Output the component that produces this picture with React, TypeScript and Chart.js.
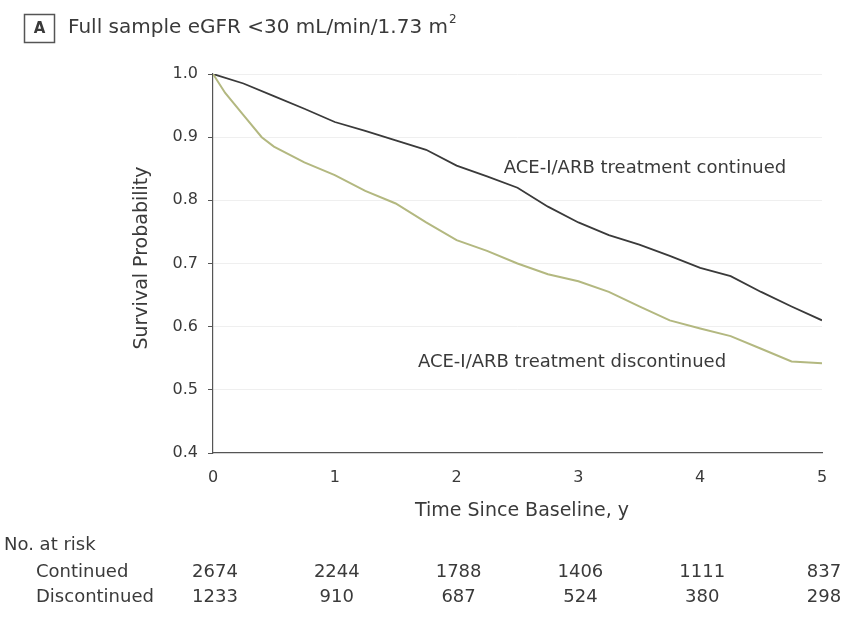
import React, { useEffect, useRef } from "react";
import { Chart, registerables } from "chart.js";

Chart.register(...registerables);

const yearTicks = [0, 1, 2, 3, 4, 5];
const yTicks = [0.4, 0.5, 0.6, 0.7, 0.8, 0.9, 1.0];

const continuedTimes = [0, 0.25, 0.5, 0.75, 1.0, 1.25, 1.5, 1.75, 2.0, 2.25, 2.5, 2.75, 3.0, 3.25, 3.5, 3.75, 4.0, 4.25, 4.5, 4.75, 5.0];
const continuedSurvival = [1.0, 0.985, 0.965, 0.945, 0.924, 0.91, 0.895, 0.88, 0.855, 0.838, 0.82, 0.79, 0.765, 0.745, 0.73, 0.712, 0.693, 0.68, 0.655, 0.632, 0.61];

const discontinuedTimes = [0, 0.1, 0.25, 0.4, 0.5, 0.75, 1.0, 1.25, 1.5, 1.75, 2.0, 2.25, 2.5, 2.75, 3.0, 3.25, 3.5, 3.75, 4.0, 4.25, 4.5, 4.75, 5.0];
const discontinuedSurvival = [1.0, 0.97, 0.935, 0.9, 0.885, 0.86, 0.84, 0.815, 0.795, 0.765, 0.737, 0.72, 0.7, 0.683, 0.672, 0.655, 0.632, 0.61, 0.597, 0.585, 0.565, 0.545, 0.542];

const atRiskContinued = [2674, 2244, 1788, 1406, 1111, 837];
const atRiskDiscontinued = [1233, 910, 687, 524, 380, 298];

const FONT = "'DejaVu Sans', 'Liberation Sans', sans-serif";
const TEXT = "#3a3a3a";

const overlay = {
  id: "overlay",
  afterDraw(chart: any) {
    const ctx = chart.ctx;
    const xs = chart.scales.x;
    const ys = chart.scales.y;
    ctx.save();
    ctx.fillStyle = TEXT;
    ctx.textBaseline = "middle";
    // panel title
    ctx.strokeStyle = "#555";
    ctx.lineWidth = 1.5;
    ctx.strokeRect(24.5, 14.5, 30, 28);
    ctx.font = `bold 15px ${FONT}`;
    ctx.textAlign = "center";
    ctx.fillText("A", 39.5, 29);
    ctx.font = `20px ${FONT}`;
    ctx.textAlign = "left";
    const t = "Full sample eGFR <30 mL/min/1.73 m";
    ctx.fillText(t, 68, 28);
    const w = ctx.measureText(t).width;
    ctx.font = `12px ${FONT}`;
    ctx.fillText("2", 68 + w + 1, 20);
    // axis titles
    ctx.font = `19px ${FONT}`;
    ctx.textAlign = "center";
    ctx.fillText("Time Since Baseline, y", 522, 511);
    ctx.save();
    ctx.translate(142, 258);
    ctx.rotate(-Math.PI / 2);
    ctx.fillText("Survival Probability", 0, 0);
    ctx.restore();
    // curve labels
    ctx.font = `18px ${FONT}`;
    ctx.fillText("ACE-I/ARB treatment continued", 645, ys.getPixelForValue(0.85));
    ctx.fillText("ACE-I/ARB treatment discontinued", 572, ys.getPixelForValue(0.544));
    // at-risk table
    ctx.textAlign = "left";
    ctx.fillText("No. at risk", 4, 545);
    ctx.fillText("Continued", 36, 572);
    ctx.fillText("Discontinued", 36, 597);
    ctx.textAlign = "center";
    yearTicks.forEach((yr, i) => {
      let px = xs.getPixelForValue(yr) + 2;
      if (i === yearTicks.length - 1) px = Math.min(px, 848 - 22);
      ctx.fillText(String(atRiskContinued[i]), px, 572);
      ctx.fillText(String(atRiskDiscontinued[i]), px, 597);
    });
    ctx.restore();
  },
};

export default function App() {
  const ref = useRef<HTMLCanvasElement>(null);
  useEffect(() => {
    if (!ref.current) return;
    const chart = new Chart(ref.current, {
      type: "line",
      data: {
        datasets: [
          {
            label: "Discontinued",
            data: discontinuedTimes.map((x, i) => ({ x, y: discontinuedSurvival[i] })),
            borderColor: "#b3b880",
            borderWidth: 2,
            pointRadius: 0,
            tension: 0,
          },
          {
            label: "Continued",
            data: continuedTimes.map((x, i) => ({ x, y: continuedSurvival[i] })),
            borderColor: "#3a3a3a",
            borderWidth: 1.8,
            pointRadius: 0,
            tension: 0,
          },
        ],
      },
      options: {
        animation: false,
        responsive: false,
        layout: { padding: { left: 0, top: 74, right: 26, bottom: 0 } },
        plugins: { legend: { display: false }, tooltip: { enabled: false }, title: { display: false } },
        scales: {
          x: {
            type: "linear",
            min: 0,
            max: 5,
            afterBuildTicks: (s: any) => { s.ticks = yearTicks.map((v) => ({ value: v })); },
            afterFit: (s: any) => { s.height = 643 - 453; },
            grid: { display: false, drawTicks: true, tickLength: 5 },
            border: { display: true, color: "#555", width: 1.2 },
            ticks: { color: TEXT, font: { family: FONT, size: 16 }, padding: 10 },
          },
          y: {
            type: "linear",
            min: 0.4,
            max: 1.0,
            afterBuildTicks: (s: any) => { s.ticks = yTicks.map((v) => ({ value: v })); },
            afterFit: (s: any) => { s.width = 213; },
            grid: {
              color: (c: any) => (c.tick && c.tick.value > 0.41 ? "#efefef" : "rgba(0,0,0,0)"),
              tickColor: "#555",
              tickLength: 5,
            },
            border: { display: true, color: "#555", width: 1.2 },
            ticks: {
              color: TEXT,
              font: { family: FONT, size: 16 },
              padding: 10,
              callback: (v: any) => Number(v).toFixed(1),
            },
          },
        },
      },
      plugins: [overlay],
    });
    return () => chart.destroy();
  }, []);
  return (
    <div style={{ position: "fixed", left: 0, top: 0, width: 848, height: 643, background: "#fff" }}>
      <canvas ref={ref} width={848} height={643} style={{ width: 848, height: 643 }} />
    </div>
  );
}
